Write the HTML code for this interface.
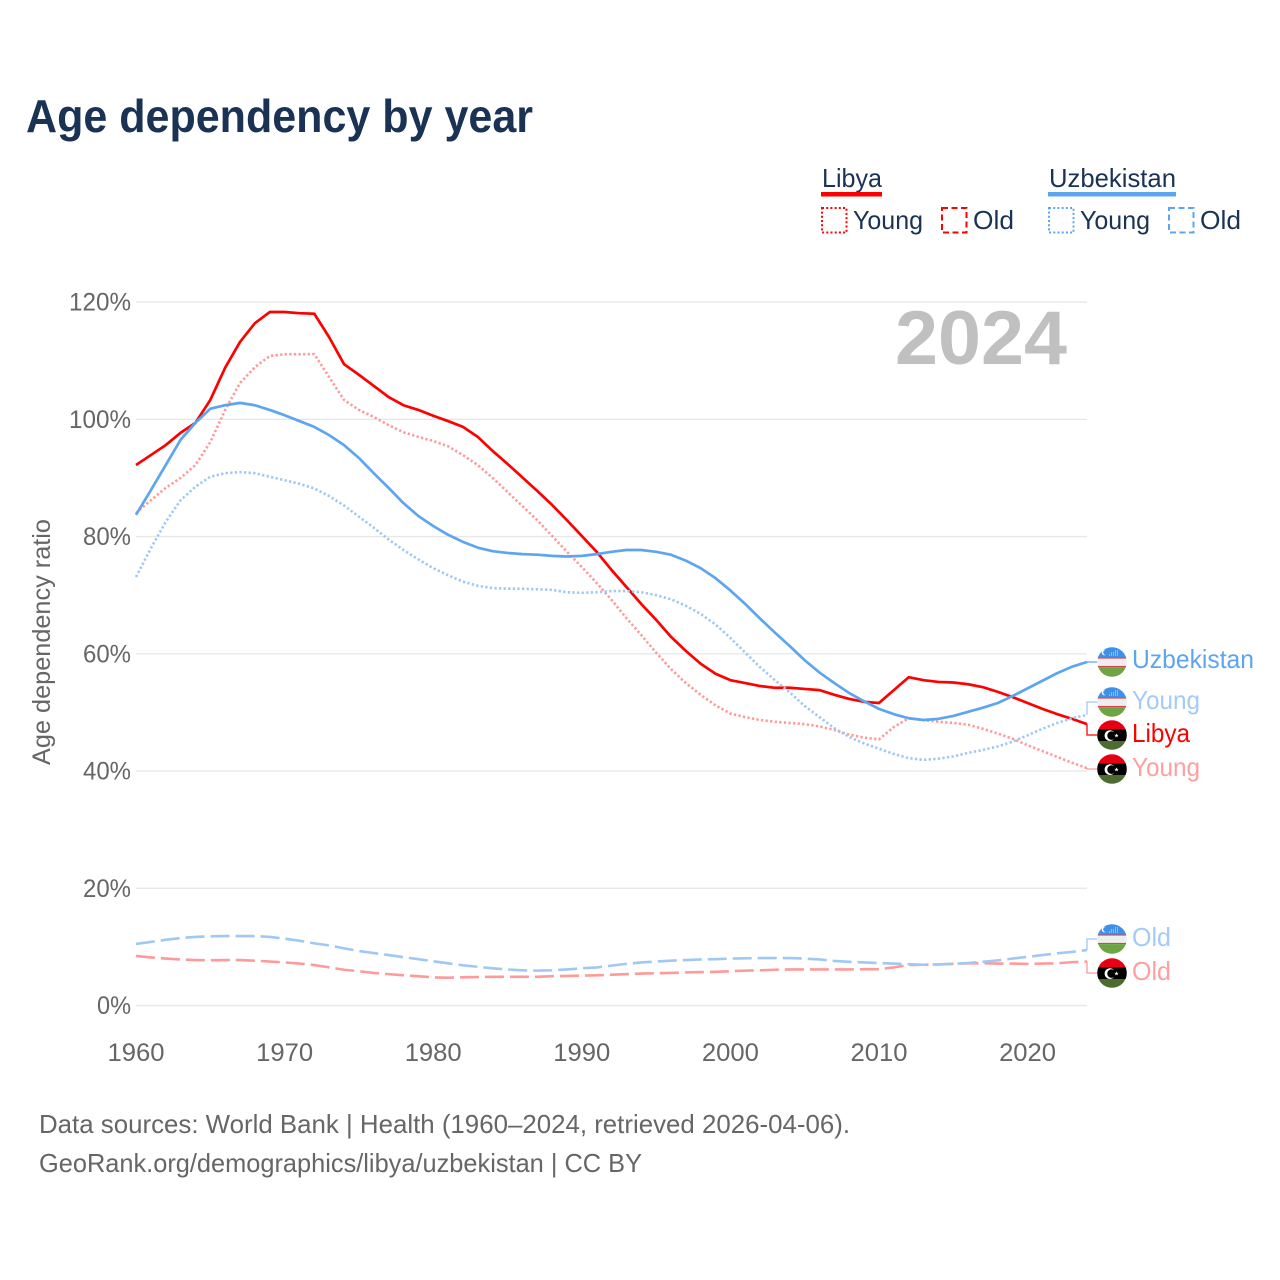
<!DOCTYPE html>
<html lang="en">
<head>
<meta charset="utf-8">
<title>Age dependency by year</title>
<style>
  html, body { margin: 0; padding: 0; background: #fff; }
  svg { display: block; }
  text { font-family: "Liberation Sans", Arial, sans-serif; }
</style>
</head>
<body>
<svg id="chart" xmlns="http://www.w3.org/2000/svg" width="1280" height="1280" viewBox="0 0 1280 1280">
  <defs>
    <clipPath id="flag-clip"><circle cx="0" cy="0" r="14.8"/></clipPath>
    <symbol id="flag-uz" overflow="visible" viewBox="-15 -15 30 30">
      <g clip-path="url(#flag-clip)">
        <rect x="-15" y="-15" width="30" height="10.5" fill="#3f90ea"/>
        <rect x="-15" y="-4.5" width="30" height="1.2" fill="#d8434f"/>
        <rect x="-15" y="-3.3" width="30" height="7.2" fill="#eeeeee"/>
        <rect x="-15" y="3.9" width="30" height="1.2" fill="#d8434f"/>
        <rect x="-15" y="5.1" width="30" height="10" fill="#6da544"/>
        <circle cx="-7.5" cy="-9.5" r="2.8" fill="#fff"/>
        <circle cx="-6.3" cy="-9.5" r="2.5" fill="#3f90ea"/>
        <g fill="#dbe9fb">
          <rect x="-3" y="-7.5" width="1" height="1"/><rect x="-1" y="-7.5" width="1" height="1"/><rect x="1" y="-7.5" width="1" height="1"/><rect x="3" y="-7.5" width="1" height="1"/><rect x="5" y="-7.5" width="1" height="1"/>
          <rect x="-1" y="-9.5" width="1" height="1"/><rect x="1" y="-9.5" width="1" height="1"/><rect x="3" y="-9.5" width="1" height="1"/><rect x="5" y="-9.5" width="1" height="1"/>
          <rect x="3" y="-11.5" width="1" height="1"/><rect x="5" y="-11.5" width="1" height="1"/>
        </g>
      </g>
    </symbol>
    <symbol id="flag-ly" overflow="visible" viewBox="-15 -15 30 30">
      <g clip-path="url(#flag-clip)">
        <rect x="-15" y="-15" width="30" height="9.5" fill="#e70013"/>
        <rect x="-15" y="-5.5" width="30" height="11.5" fill="#000"/>
        <rect x="-15" y="6" width="30" height="9" fill="#4b6b2f"/>
        <circle cx="-2" cy="0.6" r="5.4" fill="#fff"/>
        <circle cx="-0.4" cy="0.6" r="4.3" fill="#000"/>
        <polygon points="4.5,-1.6 5.1,-0.1 6.7,-0.1 5.4,0.9 5.9,2.4 4.5,1.5 3.1,2.4 3.6,0.9 2.3,-0.1 3.9,-0.1" fill="#fff"/>
      </g>
    </symbol>
  </defs>

  <text x="26" y="132" font-size="46" font-weight="700" fill="#1a3354" textLength="507" lengthAdjust="spacingAndGlyphs">Age dependency by year</text>

  <g>
    <g>
      <text x="822" y="187" font-size="26" fill="#1a3354" textLength="60" lengthAdjust="spacingAndGlyphs">Libya</text>
      <rect x="821" y="192" width="61" height="4.5" fill="#ff0000"/>
      <rect x="822" y="208" width="24.5" height="24.5" fill="none" stroke="#ff0000" stroke-width="2" stroke-dasharray="2 2.2"/>
      <text x="853" y="229" font-size="26" fill="#1a3354" textLength="70" lengthAdjust="spacingAndGlyphs">Young</text>
      <rect x="942" y="208" width="24.5" height="24.5" fill="none" stroke="#ff0000" stroke-width="2" stroke-dasharray="6 3.5"/>
      <text x="973" y="229" font-size="26" fill="#1a3354" textLength="41" lengthAdjust="spacingAndGlyphs">Old</text>
    </g>
    <g>
      <text x="1049" y="187" font-size="26" fill="#1a3354" textLength="127" lengthAdjust="spacingAndGlyphs">Uzbekistan</text>
      <rect x="1048" y="192" width="128" height="4.5" fill="#5ea5f0"/>
      <rect x="1049" y="208" width="24.5" height="24.5" fill="none" stroke="#5ea5f0" stroke-width="2" stroke-dasharray="2 2.2"/>
      <text x="1080" y="229" font-size="26" fill="#1a3354" textLength="70" lengthAdjust="spacingAndGlyphs">Young</text>
      <rect x="1169" y="208" width="24.5" height="24.5" fill="none" stroke="#5ea5f0" stroke-width="2" stroke-dasharray="6 3.5"/>
      <text x="1200" y="229" font-size="26" fill="#1a3354" textLength="41" lengthAdjust="spacingAndGlyphs">Old</text>
    </g>
  </g>

  <g id="grid"></g>
  <g id="y-ticks"></g>
  <g id="x-ticks"></g>

  <text transform="translate(50 642) rotate(-90)" text-anchor="middle" font-size="25" fill="#666666" textLength="246" lengthAdjust="spacingAndGlyphs">Age dependency ratio</text>

  <text x="895" y="364" font-size="76" font-weight="700" fill="#c0c0c0" textLength="172" lengthAdjust="spacingAndGlyphs">2024</text>

  <g id="series"></g>
  <g id="leaders"></g>

  <g>
    <use href="#flag-uz" x="1097" y="647" width="30" height="30"/>
    <use href="#flag-uz" x="1097" y="687" width="30" height="30"/>
    <use href="#flag-ly" x="1097" y="720" width="30" height="30"/>
    <use href="#flag-ly" x="1097" y="754" width="30" height="30"/>
    <use href="#flag-uz" x="1097" y="924" width="30" height="30"/>
    <use href="#flag-ly" x="1097" y="958" width="30" height="30"/>
    <text x="1132" y="668" font-size="26" fill="#5ea5f0" textLength="122" lengthAdjust="spacingAndGlyphs">Uzbekistan</text>
    <text x="1132" y="709" font-size="26" fill="#a3cbf6" textLength="68" lengthAdjust="spacingAndGlyphs">Young</text>
    <text x="1132" y="742" font-size="26" fill="#ff0000" textLength="58" lengthAdjust="spacingAndGlyphs">Libya</text>
    <text x="1132" y="776" font-size="26" fill="#ff9f9f" textLength="68" lengthAdjust="spacingAndGlyphs">Young</text>
    <text x="1132" y="946" font-size="26" fill="#a3cbf6" textLength="39" lengthAdjust="spacingAndGlyphs">Old</text>
    <text x="1132" y="980" font-size="26" fill="#ff9f9f" textLength="39" lengthAdjust="spacingAndGlyphs">Old</text>
  </g>

  <text x="39" y="1133" font-size="26" fill="#666666" textLength="811" lengthAdjust="spacingAndGlyphs">Data sources: World Bank | Health (1960–2024, retrieved 2026-04-06).</text>
  <text x="39" y="1172" font-size="26" fill="#666666" textLength="603" lengthAdjust="spacingAndGlyphs">GeoRank.org/demographics/libya/uzbekistan | CC BY</text>
</svg>

<script>
var startYear = 1960;
var endYear = 2024;
var yTickValues = [0, 20, 40, 60, 80, 100, 120];
var xTickValues = [1960, 1970, 1980, 1990, 2000, 2010, 2020];

var libyaTotal = [92.2,93.9,95.6,97.7,99.4,103.3,108.8,113.2,116.4,118.3,118.3,118.1,118.0,114.0,109.4,107.6,105.7,103.8,102.4,101.6,100.6,99.7,98.7,97.0,94.6,92.4,90.1,87.8,85.4,82.8,80.1,77.4,74.3,71.4,68.5,65.8,62.9,60.5,58.3,56.6,55.5,55.0,54.5,54.2,54.2,54.0,53.8,53.0,52.3,51.8,51.6,53.8,56.0,55.5,55.2,55.1,54.8,54.3,53.5,52.6,51.6,50.6,49.7,48.9,48.0];
var libyaYoung = [84.0,86.2,88.3,90.0,92.2,96.1,101.6,106.2,108.9,110.8,111.1,111.1,111.1,107.2,103.3,101.6,100.4,99.0,97.8,97.0,96.3,95.4,93.9,92.2,90.0,87.6,85.2,82.8,80.1,77.4,74.8,72.1,69.2,66.1,63.2,60.2,57.4,55.0,53.0,51.2,49.8,49.2,48.7,48.4,48.2,48.0,47.6,47.0,46.2,45.7,45.4,47.5,49.0,48.7,48.4,48.2,47.9,47.2,46.4,45.5,44.4,43.4,42.4,41.4,40.5];
var libyaOld = [8.45,8.2,8.0,7.85,7.75,7.7,7.75,7.75,7.65,7.5,7.35,7.15,6.9,6.5,6.1,5.85,5.55,5.35,5.15,5.0,4.8,4.75,4.8,4.85,4.9,4.9,4.9,4.9,5.0,5.05,5.1,5.15,5.25,5.35,5.45,5.5,5.55,5.65,5.7,5.75,5.85,5.95,6.0,6.1,6.15,6.15,6.15,6.15,6.15,6.2,6.2,6.5,6.9,6.95,7.0,7.1,7.2,7.2,7.15,7.15,7.1,7.15,7.2,7.4,7.5];
var uzbekTotal = [83.7,87.9,92.2,96.5,99.4,101.8,102.4,102.8,102.4,101.6,100.7,99.7,98.7,97.3,95.6,93.4,90.8,88.3,85.7,83.5,81.8,80.3,79.1,78.1,77.5,77.2,77.0,76.9,76.7,76.6,76.7,77.0,77.4,77.7,77.7,77.4,76.9,75.9,74.6,72.9,70.8,68.5,66.0,63.6,61.3,58.9,56.8,55.0,53.3,51.9,50.6,49.7,49.0,48.7,48.9,49.4,50.1,50.8,51.6,52.8,54.1,55.4,56.7,57.8,58.6];
var uzbekYoung = [73.1,78.0,82.5,86.2,88.5,90.2,90.8,91.0,90.8,90.2,89.6,89.0,88.2,86.9,85.3,83.4,81.5,79.5,77.7,76.1,74.6,73.4,72.3,71.6,71.2,71.1,71.1,71.0,70.9,70.5,70.4,70.5,70.7,70.7,70.5,70.0,69.3,68.2,66.8,65.0,62.7,60.2,57.7,55.5,53.4,51.1,49.2,47.3,45.8,44.7,43.8,42.9,42.2,41.9,42.1,42.5,43.1,43.6,44.2,45.0,46.1,47.2,48.2,49.0,49.6];
var uzbekOld = [10.5,10.85,11.2,11.5,11.7,11.8,11.85,11.85,11.85,11.7,11.4,11.05,10.6,10.25,9.75,9.3,8.95,8.6,8.25,7.9,7.55,7.2,6.85,6.6,6.35,6.15,6.0,5.95,6.0,6.15,6.35,6.5,6.8,7.1,7.35,7.5,7.65,7.75,7.85,7.9,8.0,8.05,8.1,8.1,8.1,8.0,7.85,7.6,7.45,7.35,7.25,7.15,7.05,6.95,7.0,7.1,7.25,7.45,7.7,8.0,8.3,8.6,8.9,9.15,9.45];

var SVG_NS = "http://www.w3.org/2000/svg";
var plotLeft = 136, plotRight = 1087, zeroY = 1005.5, pxPerPercent = 5.862;

function xScale(year) {
  return plotLeft + (year - startYear) * (plotRight - plotLeft) / (endYear - startYear);
}
function yScale(value) {
  return zeroY - value * pxPerPercent;
}

var gridGroup = document.getElementById("grid");
var yTickGroup = document.getElementById("y-ticks");
var xTickGroup = document.getElementById("x-ticks");
var seriesGroup = document.getElementById("series");
var leaderGroup = document.getElementById("leaders");

yTickValues.forEach(function (v) {
  var line = document.createElementNS(SVG_NS, "line");
  
  
  line.setAttribute("x1", plotLeft);
  line.setAttribute("x2", plotRight);
  line.setAttribute("y1", yScale(v));
  line.setAttribute("y2", yScale(v));
  line.setAttribute("stroke", "#e8e8e8");
  line.setAttribute("stroke-width", "1.4");
  gridGroup.appendChild(line);

  var label = document.createElementNS(SVG_NS, "text");
  
  
  var text = v + "%";
  label.setAttribute("x", 131);
  label.setAttribute("y", yScale(v) + 8.5);
  label.setAttribute("text-anchor", "end");
  label.setAttribute("font-size", "25");
  label.setAttribute("fill", "#666666");
  label.setAttribute("textLength", (text.length - 1) * 14 + 20);
  label.setAttribute("lengthAdjust", "spacingAndGlyphs");
  label.textContent = text;
  yTickGroup.appendChild(label);
});

xTickValues.forEach(function (year) {
  var label = document.createElementNS(SVG_NS, "text");
  
  
  label.setAttribute("x", xScale(year));
  label.setAttribute("y", 1061);
  label.setAttribute("text-anchor", "middle");
  label.setAttribute("font-size", "25");
  label.setAttribute("fill", "#666666");
  label.setAttribute("textLength", "57");
  label.setAttribute("lengthAdjust", "spacingAndGlyphs");
  label.textContent = String(year);
  xTickGroup.appendChild(label);
});

function linePath(values) {
  return values.map(function (v, i) {
    return (i ? "L" : "M") + xScale(startYear + i).toFixed(2) + " " + yScale(v).toFixed(2);
  }).join("");
}

function drawSeries(values, name, color, width, dash) {
  var path = document.createElementNS(SVG_NS, "path");
  
  
  path.setAttribute("d", linePath(values));
  path.setAttribute("fill", "none");
  path.setAttribute("stroke", color);
  path.setAttribute("stroke-width", width);
  path.setAttribute("stroke-linejoin", "round");
  if (dash) path.setAttribute("stroke-dasharray", dash);
  seriesGroup.appendChild(path);
}

drawSeries(libyaTotal, "line-libya-total", "#ff0000", 2.7, "");
drawSeries(libyaYoung, "line-libya-young", "#ff9a9a", 2.6, "2.3 2.3");
drawSeries(libyaOld, "line-libya-old", "#ff9a9a", 2.6, "19 6");
drawSeries(uzbekTotal, "line-uzbekistan-total", "#5ea5f0", 2.7, "");
drawSeries(uzbekYoung, "line-uzbekistan-young", "#9fc8f5", 2.6, "2.3 2.3");
drawSeries(uzbekOld, "line-uzbekistan-old", "#9fc8f5", 2.6, "19 6");

function drawLeader(values, labelY, name, color) {
  var endY = yScale(values[values.length - 1]);
  var leader = document.createElementNS(SVG_NS, "path");
  
  
  leader.setAttribute("d", "M" + plotRight + " " + endY.toFixed(2) + "V" + labelY + "H1097");
  leader.setAttribute("fill", "none");
  leader.setAttribute("stroke", color);
  leader.setAttribute("stroke-width", "1.3");
  leaderGroup.appendChild(leader);
}

drawLeader(uzbekTotal, 662, "leader-uzbekistan-total", "#5ea5f0");
drawLeader(uzbekYoung, 702, "leader-uzbekistan-young", "#9fc8f5");
drawLeader(libyaTotal, 735, "leader-libya-total", "#ff0000");
drawLeader(libyaYoung, 769, "leader-libya-young", "#ff9a9a");
drawLeader(uzbekOld, 939, "leader-uzbekistan-old", "#9fc8f5");
drawLeader(libyaOld, 973, "leader-libya-old", "#ff9a9a");
</script>
</body>
</html>
